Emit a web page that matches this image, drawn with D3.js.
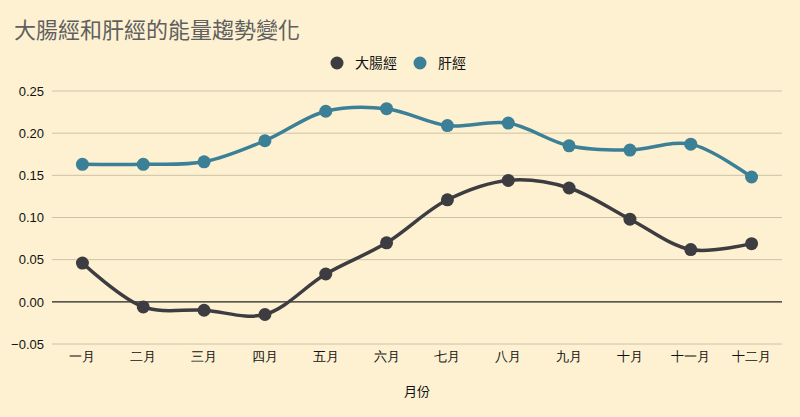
<!DOCTYPE html>
<html>
<head>
<meta charset="utf-8">
<script src="https://cdn.jsdelivr.net/npm/d3@7"></script>
<style>
  body { margin: 0; background: #fdf1d1; }
  svg { display: block; font-family: "Noto Sans CJK TC", "Noto Sans", sans-serif; }
</style>
</head>
<body>
<div id="chart"></div>
<script>
const months = ["一月", "二月", "三月", "四月", "五月", "六月", "七月", "八月", "九月", "十月", "十一月", "十二月"];
const largeIntestine = [0.046, -0.006, -0.010, -0.015, 0.033, 0.070, 0.121, 0.144, 0.135, 0.098, 0.062, 0.069];
const liver = [0.163, 0.163, 0.166, 0.191, 0.226, 0.229, 0.209, 0.212, 0.185, 0.180, 0.187, 0.148];
const yTicks = [-0.05, 0, 0.05, 0.10, 0.15, 0.20, 0.25];

const series = [
    { name: "大腸經", values: largeIntestine, color: "#3d3c40" },
    { name: "肝經", values: liver, color: "#3b8096" }
];

const width = 800, height = 417;
const margin = { top: 91, right: 18, bottom: 73, left: 52 };
const innerW = width - margin.left - margin.right;
const innerH = height - margin.top - margin.bottom;

const svg = d3.select("#chart").append("svg")
    .attr("width", width)
    .attr("height", height);

svg.append("rect").attr("width", width).attr("height", height).attr("fill", "#fdf1d1");

// Title
svg.append("text")
    .attr("x", 14)
    .attr("y", 38)
    .attr("font-size", 22)
    .attr("fill", "#5f5f5f")
    .text("大腸經和肝經的能量趨勢變化");

const g = svg.append("g")
    .attr("transform", `translate(${margin.left},${margin.top})`);

const xScale = d3.scaleBand().domain(months).range([0, innerW]);
const yScale = d3.scaleLinear().domain([-0.05, 0.25]).range([innerH, 0]);

// Gridlines
g.selectAll(".grid")
    .data(yTicks)
    .enter().append("line")
    .attr("x1", 0)
    .attr("x2", innerW)
    .attr("y1", d => yScale(d))
    .attr("y2", d => yScale(d))
    .attr("stroke", d => d === 0 ? "#222" : "#cdc2a6")
    .attr("stroke-width", d => d === 0 ? 1.3 : 1);

// Y axis
const yAxis = d3.axisLeft(yScale).tickValues(yTicks).tickFormat(d3.format(".2f")).tickSize(0).tickPadding(8);
g.append("g")
    .call(yAxis)
    .call(s => s.select(".domain").remove())
    .selectAll("text")
    .attr("font-size", 13)
    .attr("fill", "#111");

// X axis
const xAxis = d3.axisBottom(xScale).tickSize(0).tickPadding(8);
g.append("g")
    .attr("transform", `translate(0,${innerH})`)
    .call(xAxis)
    .call(s => s.select(".domain").remove())
    .selectAll("text")
    .attr("font-size", 13)
    .attr("fill", "#111");

svg.append("text")
    .attr("x", margin.left + innerW / 2)
    .attr("y", 396)
    .attr("text-anchor", "middle")
    .attr("font-size", 13)
    .attr("fill", "#111")
    .text("月份");

// Lines and points
const line = d3.line()
    .x((d, i) => xScale(months[i]) + xScale.bandwidth() / 2)
    .y(d => yScale(d))
    .curve(d3.curveCatmullRom.alpha(0.5));

series.forEach(s => {
    g.append("path")
        .datum(s.values)
        .attr("fill", "none")
        .attr("stroke", s.color)
        .attr("stroke-width", 3.5)
        .attr("d", line);

    g.selectAll(null)
        .data(s.values)
        .enter().append("circle")
        .attr("cx", (d, i) => xScale(months[i]) + xScale.bandwidth() / 2)
        .attr("cy", d => yScale(d))
        .attr("r", 6.5)
        .attr("fill", s.color);
});

// Legend
const legend = svg.append("g").attr("transform", "translate(337,63)");
const legendPos = [0, 83];
series.forEach((s, i) => {
    const item = legend.append("g").attr("transform", `translate(${legendPos[i]},0)`);
    item.append("circle").attr("r", 6.5).attr("fill", s.color);
    item.append("text")
        .attr("x", 18)
        .attr("y", 5)
        .attr("font-size", 14)
        .attr("fill", "#111")
        .text(s.name);
});
</script>
</body>
</html>
